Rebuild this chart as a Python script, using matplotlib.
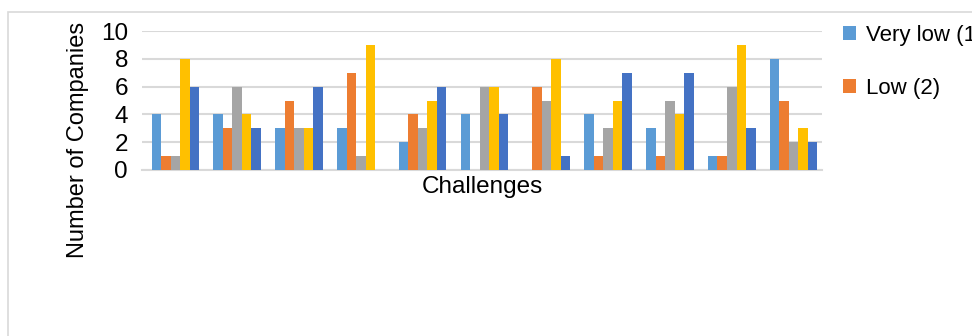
import matplotlib
matplotlib.use("Agg")
import matplotlib.pyplot as plt
import numpy as np
from matplotlib.patches import Rectangle, Patch

# Ratings of each challenge (11 challenges, 5 rating levels)
series_names = ["Very low (1)", "Low (2)", "Moderate (3)", "High (4)", "Very high (5)"]
very_low = [4, 4, 3, 3, 2, 4, 0, 4, 3, 1, 8]
low = [1, 3, 5, 7, 4, 0, 6, 1, 1, 1, 5]
moderate = [1, 6, 3, 1, 3, 6, 5, 3, 5, 6, 2]
high = [8, 4, 3, 9, 5, 6, 8, 5, 4, 9, 3]
very_high = [6, 3, 6, 0, 6, 4, 1, 7, 7, 3, 2]
y_ticks = [0, 2, 4, 6, 8, 10]

colors = ["#5B9BD5", "#ED7D31", "#A5A5A5", "#FFC000", "#4472C4"]
series = [very_low, low, moderate, high, very_high]

plt.rcParams["font.family"] = ["Liberation Sans", "DejaVu Sans"]

fig = plt.figure(figsize=(9.72, 3.36), dpi=100)
W, H = 972, 336

# light frame around the chart area
fig.patches.append(Rectangle((8 / W, -0.1), 1.2, 1 - 12 / H + 0.1,
                             transform=fig.transFigure, fill=False,
                             edgecolor="#d9d9d9", linewidth=1.2))

ax = fig.add_axes([142 / W, 1 - 170 / H, (822 - 142) / W, (170 - 31) / H])

n = len(very_low)
x = np.arange(n)
bw = 0.154
for i, (vals, c) in enumerate(zip(series, colors)):
    ax.bar(x + (i - 2) * bw + 0.04, vals, width=bw, color=c, zorder=3)

ax.set_xlim(-0.5, n - 0.5)
ax.set_ylim(0, 10)
ax.set_yticks(y_ticks)
ax.set_xticks([])
ax.yaxis.grid(True, color="#d9d9d9", linewidth=1.5, zorder=0)
for s in ["top", "right", "left"]:
    ax.spines[s].set_visible(False)
ax.spines["bottom"].set_color("#d9d9d9")
ax.spines["bottom"].set_linewidth(1.5)
ax.tick_params(axis="y", length=0, pad=10, labelsize=17.5)

ax.set_ylabel("Number of Companies", fontsize=17)
ax.yaxis.set_label_coords((89 - 142) / 680, (170 - 140) / 139)
ax.set_xlabel("Challenges", fontsize=17.5, labelpad=4)

handles = [Patch(facecolor=colors[i], label=series_names[i]) for i in range(2)]
fig.legend(handles=handles, loc="upper left",
           bbox_to_anchor=(834 / W, 1 - 16 / H), frameon=False,
           fontsize=16, handlelength=0.6, handleheight=0.6,
           handletextpad=0.45, labelspacing=1.45, borderaxespad=0)

fig.savefig("out.png", dpi=100)
